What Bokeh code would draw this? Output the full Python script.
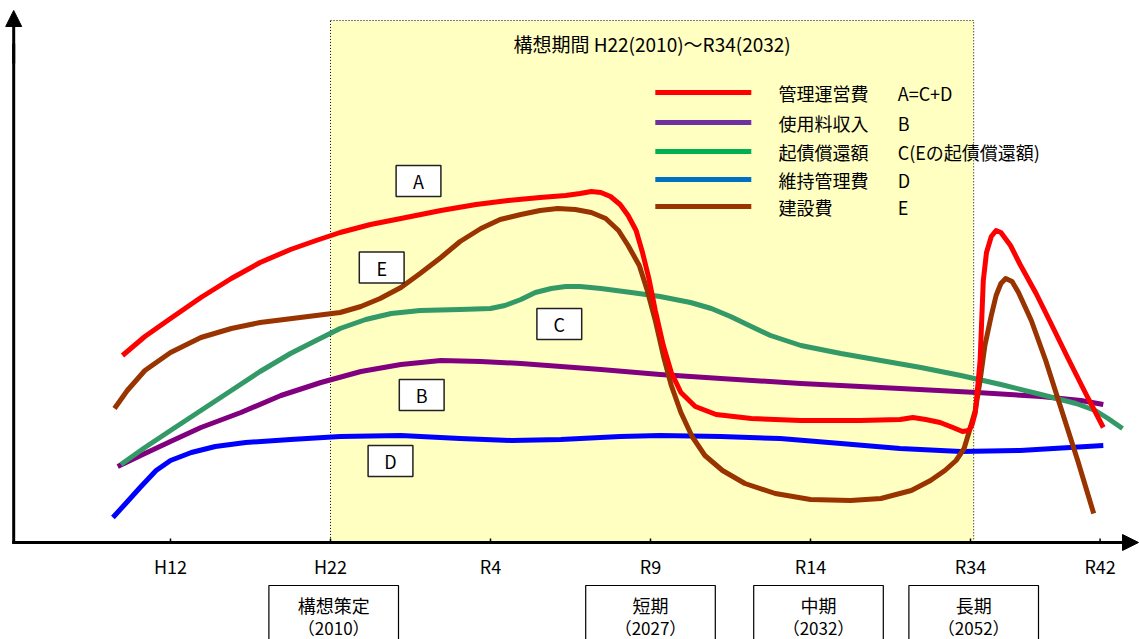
from bokeh.plotting import figure
from bokeh.models import Range1d, Arrow, NormalHead
from bokeh.core.properties import value
from bokeh.embed import file_html
from bokeh.resources import INLINE

# ---- data (x: tick index H12=0 ... R34=5, R42~5.81; y: relative amount) ----
tick_labels = ["H12", "H22", "R4", "R9", "R14", "R34", "R42"]
tick_pos = [0, 1, 2, 3, 4, 5, 5.81]

a_x = [-0.30, -0.16, 0.00, 0.19, 0.38, 0.56, 0.75, 0.91, 1.06, 1.25, 1.44, 1.69, 1.91, 2.11, 2.31,
       2.47, 2.56, 2.63, 2.69, 2.75, 2.81, 2.86, 2.91, 2.95, 2.99, 3.03, 3.08, 3.13, 3.19, 3.28,
       3.41, 3.63, 3.94, 4.31, 4.56, 4.64, 4.72, 4.81, 4.89, 4.95, 4.99, 5.01, 5.03, 5.04, 5.06,
       5.07, 5.08, 5.10, 5.13, 5.16, 5.19, 5.25, 5.31, 5.41, 5.50, 5.61, 5.72, 5.83]
a_y = [18.8, 20.7, 22.5, 24.6, 26.5, 28.1, 29.4, 30.3, 31.1, 31.9, 32.5, 33.3, 33.9, 34.3, 34.6,
       34.8, 35.0, 35.2, 35.1, 34.7, 33.9, 32.8, 31.3, 29.1, 26.5, 23.3, 19.8, 17.1, 15.1, 13.7,
       12.9, 12.5, 12.3, 12.3, 12.4, 12.6, 12.4, 12.1, 11.6, 11.2, 11.3, 11.9, 13.1, 14.8, 18.3,
       22.3, 26.3, 29.1, 30.7, 31.3, 31.1, 29.8, 27.9, 25.0, 22.1, 18.5, 15.0, 11.6]

e_x = [-0.35, -0.27, -0.16, 0.00, 0.19, 0.38, 0.56, 0.81, 1.06, 1.19, 1.31, 1.44, 1.56, 1.69, 1.81,
       1.94, 2.06, 2.19, 2.31, 2.42, 2.53, 2.63, 2.72, 2.80, 2.86, 2.93, 2.98, 3.03, 3.08, 3.13,
       3.19, 3.26, 3.34, 3.45, 3.59, 3.78, 4.00, 4.25, 4.44, 4.63, 4.75, 4.84, 4.91, 4.96, 4.99,
       5.03, 5.06, 5.09, 5.13, 5.16, 5.19, 5.22, 5.26, 5.30, 5.38, 5.47, 5.56, 5.67, 5.77]
e_y = [13.5, 15.3, 17.3, 19.1, 20.6, 21.5, 22.1, 22.6, 23.1, 23.7, 24.5, 25.6, 27.0, 28.6, 30.2,
       31.5, 32.4, 32.9, 33.3, 33.5, 33.4, 33.1, 32.5, 31.3, 29.8, 27.8, 25.3, 22.3, 18.8, 15.8,
       13.1, 10.7, 8.8, 7.3, 6.0, 5.0, 4.4, 4.3, 4.5, 5.3, 6.3, 7.3, 8.3, 9.5, 11.1,
       13.3, 16.3, 19.8, 22.8, 24.8, 26.0, 26.5, 26.2, 25.1, 22.3, 18.3, 13.8, 8.3, 3.0]

c_x = [-0.31, -0.16, 0.00, 0.19, 0.38, 0.56, 0.75, 0.91, 1.06, 1.22, 1.38, 1.56, 1.81, 2.00, 2.09,
       2.19, 2.28, 2.38, 2.47, 2.56, 2.69, 2.88, 3.06, 3.25, 3.38, 3.50, 3.63, 3.75, 3.94, 4.19,
       4.44, 4.69, 4.94, 5.19, 5.44, 5.66, 5.78, 5.86, 5.95]
c_y = [7.9, 9.6, 11.3, 13.3, 15.3, 17.2, 19.0, 20.3, 21.5, 22.4, 23.0, 23.3, 23.4, 23.5, 23.8,
       24.4, 25.1, 25.5, 25.7, 25.7, 25.5, 25.1, 24.7, 24.1, 23.5, 22.7, 21.7, 20.8, 19.8, 19.0,
       18.3, 17.6, 16.8, 15.9, 14.9, 14.0, 13.3, 12.5, 11.5]

b_x = [-0.33, -0.16, 0.00, 0.19, 0.44, 0.69, 0.94, 1.19, 1.44, 1.69, 1.94, 2.19, 2.44, 2.69, 3.06,
       3.44, 3.94, 4.56, 5.04, 5.44, 5.69, 5.83]
b_y = [7.7, 9.0, 10.2, 11.6, 13.1, 14.8, 16.1, 17.2, 17.9, 18.3, 18.2, 18.0, 17.7, 17.4, 16.9,
       16.5, 16.0, 15.5, 15.1, 14.7, 14.3, 13.9]

d_x = [-0.36, -0.28, -0.19, -0.09, 0.00, 0.13, 0.28, 0.47, 0.75, 1.06, 1.44, 1.81, 2.13, 2.44, 2.81,
       3.06, 3.44, 3.81, 4.19, 4.56, 4.94, 5.31, 5.83]
d_y = [2.6, 4.0, 5.6, 7.3, 8.3, 9.1, 9.7, 10.1, 10.4, 10.7, 10.8, 10.5, 10.3, 10.4, 10.7,
       10.8, 10.7, 10.5, 10.0, 9.5, 9.2, 9.3, 9.8]

legend_names = ["管理運営費", "使用料収入", "起債償還額", "維持管理費", "建設費"]
legend_codes = ["A=C+D", "B", "C(Eの起債償還額)", "D", "E"]
legend_colors = ["#FF0000", "#7030A0", "#00B050", "#0070C0", "#993300"]

period_title = "構想期間 H22(2010)～R34(2032)"
period_start, period_end = 1.0, 5.02

label_letters = ["A", "E", "C", "B", "D"]
label_x = [1.55, 1.32, 2.43, 1.57, 1.375]
label_y = [36.25, 27.6, 21.95, 14.85, 8.25]

phase_names = ["構想策定", "短期", "中期", "長期"]
phase_years = ["（2010）", "（2027）", "（2032）", "（2052）"]
phase_center = [1.02, 3.0, 4.05, 5.02]

FONT = value("Noto Sans CJK JP")

p = figure(width=1139, height=639, output_backend="svg", toolbar_location=None,
           x_range=Range1d(-1.0625, 6.05625), y_range=Range1d(-9.6, 54.3), min_border=0)
p.axis.visible = False
p.grid.visible = False
p.outline_line_color = None
p.background_fill_color = "white"

# shaded period
p.quad(left=[period_start], right=[period_end], bottom=[0], top=[52.3],
       fill_color="#FFFFC1", line_color="black", line_width=1, line_dash="1 2")
p.text(x=[(period_start + period_end) / 2], y=[50.0], text=[period_title], text_font=FONT,
       text_font_size="19px", text_align="center", text_baseline="middle", text_color="black")

# legend
leg_y = [45.1, 42.1, 39.2, 36.4, 33.7]
p.segment(x0=[3.03] * 5, x1=[3.63] * 5, y0=leg_y, y1=leg_y, line_color=legend_colors, line_width=5)
p.text(x=[3.8] * 5, y=leg_y, text=legend_names, text_font=FONT, text_font_size="18px",
       text_baseline="middle", text_color="black")
p.text(x=[4.545] * 5, y=leg_y, text=legend_codes, text_font=FONT, text_font_size="18px",
       text_baseline="middle", text_color="black")

# curves
lw = 5
p.line(b_x, b_y, line_color="#800080", line_width=lw, line_join="round")
p.line(d_x, d_y, line_color="#0000FF", line_width=lw, line_join="round")
p.line(c_x, c_y, line_color="#339966", line_width=lw, line_join="round")
p.line(e_x, e_y, line_color="#993300", line_width=lw, line_join="round")
p.line(a_x, a_y, line_color="#FF0000", line_width=lw, line_join="round")

# label boxes
p.rect(x=label_x, y=label_y, width=0.28, height=3.1, fill_color="white",
       line_color="#222222", line_width=1.5)
p.text(x=label_x, y=label_y, text=label_letters, text_font=FONT, text_font_size="18px",
       text_align="center", text_baseline="middle", text_color="black")

# axes
p.segment(x0=[-0.99], x1=[5.95], y0=[0.1], y1=[0.1], line_color="black", line_width=3)
p.add_layout(Arrow(end=NormalHead(size=16, fill_color="black", line_color="black"),
                   x_start=5.8, y_start=0.1, x_end=6.05, y_end=0.1, line_width=3, line_color="black"))
p.segment(x0=[-0.98], x1=[-0.98], y0=[0.1], y1=[50], line_color="black", line_width=3)
p.add_layout(Arrow(end=NormalHead(size=16, fill_color="black", line_color="black"),
                   x_start=-0.98, y_start=48, x_end=-0.98, y_end=53.3, line_width=3, line_color="black"))
p.segment(x0=tick_pos, x1=tick_pos, y0=[0.1] * 7, y1=[0.5] * 7, line_color="black", line_width=1.5)
p.text(x=tick_pos, y=[-2.2] * 7, text=tick_labels, text_font=FONT, text_font_size="18px",
       text_align="center", text_baseline="middle", text_color="black")

# phase boxes
p.rect(x=phase_center, y=[-8.0] * 4, width=0.81, height=7.6, fill_color="white",
       line_color="black", line_width=1.2)
p.text(x=phase_center, y=[-6.1] * 4, text=phase_names, text_font=FONT, text_font_size="18px",
       text_align="center", text_baseline="middle", text_color="black")
p.text(x=phase_center, y=[-8.35] * 4, text=phase_years, text_font=FONT, text_font_size="17px",
       text_align="center", text_baseline="middle", text_color="black")

open("out.html", "w").write(file_html(p, INLINE))
